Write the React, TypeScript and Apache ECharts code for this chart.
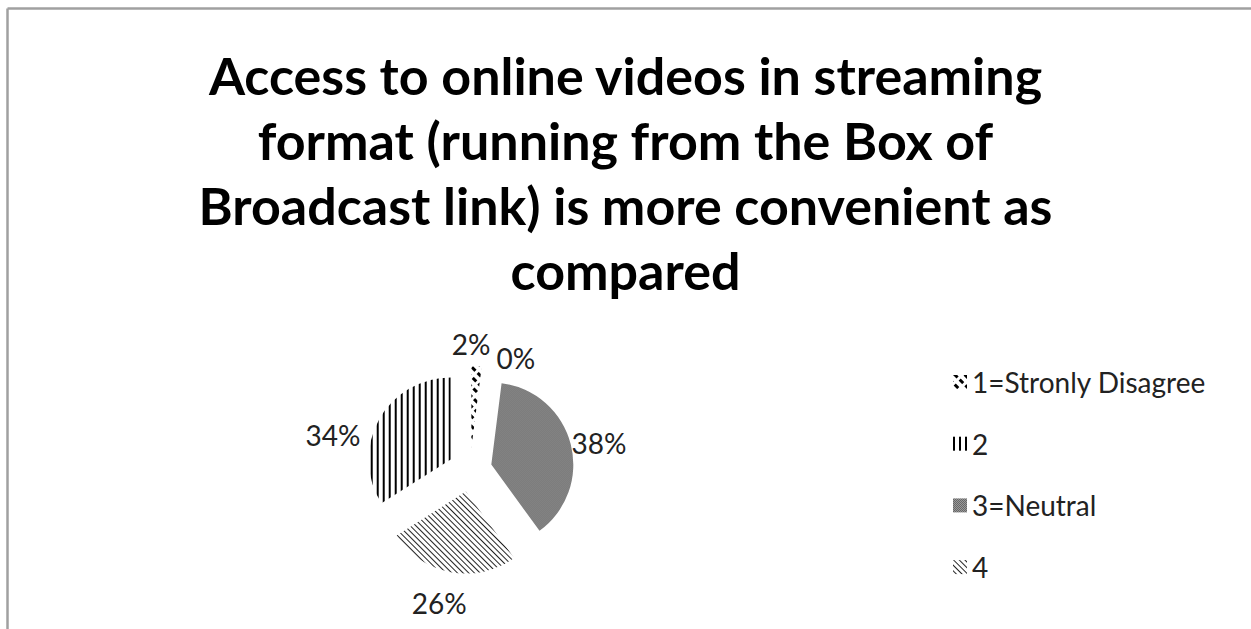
import React, { useEffect, useRef } from "react";
import * as echarts from "echarts";

const titleLines = [
  "Access to online videos in streaming",
  "format (running from the Box of",
  "Broadcast link) is more convenient as",
  "compared",
];
const categories = ["1=Stronly Disagree", "2", "3=Neutral", "4", "5=Strongly Agree"];
const shares = [2, 0, 38, 26, 34];
const legendShown = ["1=Stronly Disagree", "2", "3=Neutral", "4"];

const FONT = "Lato, 'Open Sans', sans-serif";

const decals: any[] = [
  // dashed downward diagonal
  { symbol: "rect", symbolSize: 1, dashArrayX: [2.5, 3.5], dashArrayY: [5, 3], rotation: -Math.PI / 4, color: "#000" },
  // vertical lines
  { symbol: "rect", symbolSize: 1, dashArrayX: [2, 4], dashArrayY: [1, 0], rotation: 0, color: "#000" },
  // dense checker
  { symbol: "rect", symbolSize: 1, dashArrayX: [[1, 1], [0, 1, 1, 0]], dashArrayY: [1, 0], rotation: 0, color: "#000" },
  // thin downward diagonal lines
  { symbol: "rect", symbolSize: 1, dashArrayX: [1, 2.6], dashArrayY: [1, 0], rotation: -Math.PI / 4, color: "#222" },
  // vertical lines
  { symbol: "rect", symbolSize: 1, dashArrayX: [2, 4], dashArrayY: [1, 0], rotation: 0, color: "#000" },
];

// label nudges (px) for the outside labels
const labelNudge: [number, number][] = [
  [-30, -18],
  [8, -5],
  [-8, 0],
  [22, 27],
  [-10, 17],
];

export default function App() {
  const ref = useRef<HTMLDivElement>(null);
  useEffect(() => {
    if (!ref.current) return;
    const chart = echarts.init(ref.current, null, { renderer: "svg" });
    const data = categories.map((name, i) => ({
      name,
      value: shares[i],
      selected: true,
      itemStyle: { color: "#fff", borderWidth: 0, decal: decals[i] },
    }));
    chart.setOption({
      animation: false,
      backgroundColor: "#fff",
      title: {
        text: titleLines.join("\n"),
        left: "center",
        top: 42,
        padding: [0, 0, 0, 12],
        textStyle: {
          fontFamily: FONT,
          fontWeight: "bold",
          fontSize: 52,
          lineHeight: 65,
          color: "#000",
        },
      },
      legend: {
        orient: "vertical",
        left: 953,
        top: 368,
        padding: 0,
        itemWidth: 14,
        itemHeight: 14,
        itemGap: 33.7,
        icon: "rect",
        selectedMode: false,
        data: legendShown,
        textStyle: { fontFamily: FONT, fontSize: 28, color: "#222", lineHeight: 26 },
      },
      graphic: [
        { type: "line", shape: { x1: 7.5, y1: 8.5, x2: 1251, y2: 8.5 }, style: { stroke: "#a0a0a0", lineWidth: 2.5 } },
        { type: "line", shape: { x1: 7.5, y1: 8.5, x2: 7.5, y2: 629 }, style: { stroke: "#a0a0a0", lineWidth: 2.5 } },
      ],
      series: [
        {
          type: "pie",
          center: [470, 470],
          radius: 82,
          startAngle: 90,
          clockwise: true,
          selectedMode: "multiple",
          selectedOffset: 22,
          avoidLabelOverlap: false,
          minShowLabelAngle: -1,
          emphasis: { scale: false },
          label: {
            show: true,
            position: "outside",
            formatter: (p: any) => `${p.value}%`,
            fontFamily: FONT,
            fontSize: 28,
            color: "#222",
          },
          labelLine: { show: false, length: 4, length2: 0 },
          labelLayout: (p: any) => {
            const n = labelNudge[p.dataIndex] || [0, 0];
            return { dx: n[0], dy: n[1] };
          },
          data,
        },
      ],
    });
    return () => chart.dispose();
  }, []);
  return (
    <div
      ref={ref}
      style={{ position: "fixed", left: 0, top: 0, width: 1251, height: 629 }}
    />
  );
}
